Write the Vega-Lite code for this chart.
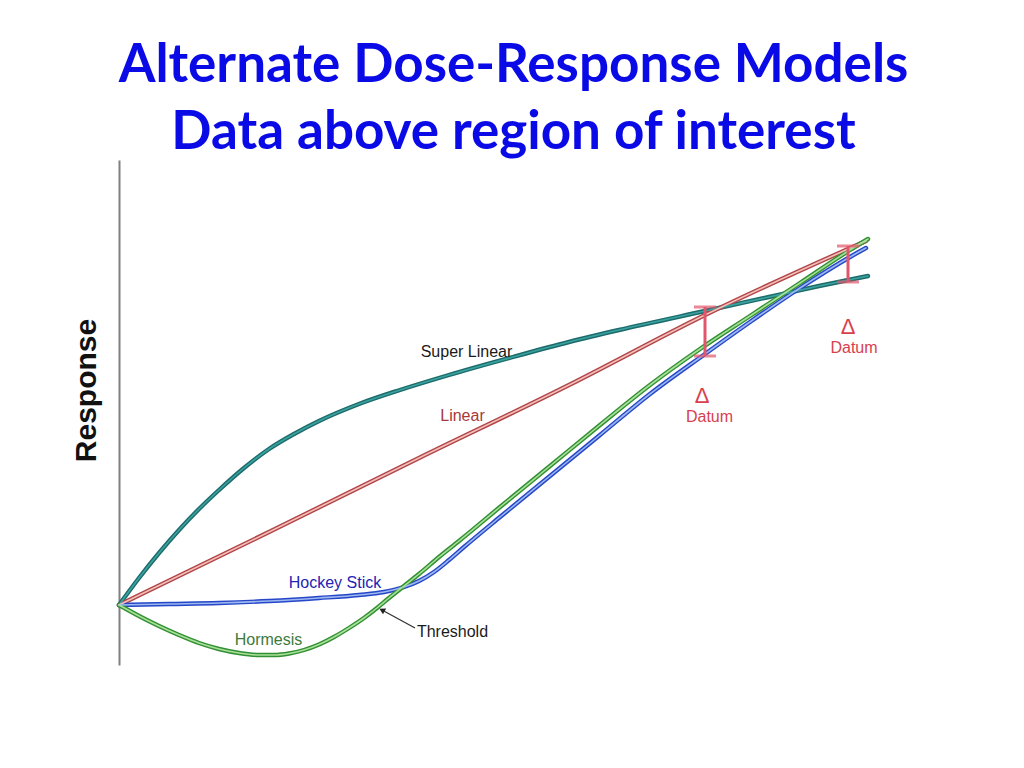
{
  "$schema": "https://vega.github.io/schema/vega-lite/v6.json",
  "width": 841,
  "height": 505,
  "autosize": {"type": "none"},
  "padding": {"left": 119, "top": 160, "right": 64, "bottom": 103},
  "background": "white",
  "config": {"view": {"stroke": null}},
  "title": {
    "text": ["Alternate Dose-Response Models", "Data above region of interest"],
    "font": "Lato",
    "fontSize": 53,
    "fontWeight": "bold",
    "color": "#0a0ae6",
    "anchor": "middle",
    "frame": "group",
    "dx": -26,
    "offset": 0,
    "lineHeight": 67
  },
  "datasets": {
    "curves": [
      {"series": "Super Linear", "x": 0, "y": 0},
      {"series": "Super Linear", "x": 20, "y": 27},
      {"series": "Super Linear", "x": 40, "y": 52},
      {"series": "Super Linear", "x": 60, "y": 75},
      {"series": "Super Linear", "x": 80, "y": 96},
      {"series": "Super Linear", "x": 100, "y": 115},
      {"series": "Super Linear", "x": 125, "y": 137},
      {"series": "Super Linear", "x": 150, "y": 156},
      {"series": "Super Linear", "x": 175, "y": 171},
      {"series": "Super Linear", "x": 200, "y": 184},
      {"series": "Super Linear", "x": 240, "y": 201},
      {"series": "Super Linear", "x": 281, "y": 215},
      {"series": "Super Linear", "x": 330, "y": 230},
      {"series": "Super Linear", "x": 394, "y": 248},
      {"series": "Super Linear", "x": 450, "y": 263},
      {"series": "Super Linear", "x": 500, "y": 275},
      {"series": "Super Linear", "x": 586, "y": 294},
      {"series": "Super Linear", "x": 650, "y": 308},
      {"series": "Super Linear", "x": 700, "y": 319},
      {"series": "Super Linear", "x": 749, "y": 329},
      {"series": "Linear", "x": 0, "y": 0},
      {"series": "Linear", "x": 150, "y": 73},
      {"series": "Linear", "x": 300, "y": 147},
      {"series": "Linear", "x": 450, "y": 220},
      {"series": "Linear", "x": 586, "y": 290},
      {"series": "Linear", "x": 747, "y": 364},
      {"series": "Hockey Stick", "x": 0, "y": 0},
      {"series": "Hockey Stick", "x": 50, "y": 1},
      {"series": "Hockey Stick", "x": 100, "y": 2},
      {"series": "Hockey Stick", "x": 150, "y": 4},
      {"series": "Hockey Stick", "x": 200, "y": 7},
      {"series": "Hockey Stick", "x": 240, "y": 10},
      {"series": "Hockey Stick", "x": 265, "y": 13},
      {"series": "Hockey Stick", "x": 285, "y": 18},
      {"series": "Hockey Stick", "x": 300, "y": 24},
      {"series": "Hockey Stick", "x": 315, "y": 33},
      {"series": "Hockey Stick", "x": 330, "y": 45},
      {"series": "Hockey Stick", "x": 345, "y": 58},
      {"series": "Hockey Stick", "x": 381, "y": 88},
      {"series": "Hockey Stick", "x": 431, "y": 129},
      {"series": "Hockey Stick", "x": 481, "y": 170},
      {"series": "Hockey Stick", "x": 531, "y": 211},
      {"series": "Hockey Stick", "x": 586, "y": 251},
      {"series": "Hockey Stick", "x": 631, "y": 283},
      {"series": "Hockey Stick", "x": 681, "y": 317},
      {"series": "Hockey Stick", "x": 731, "y": 348},
      {"series": "Hockey Stick", "x": 747, "y": 357},
      {"series": "Hormesis", "x": 0, "y": 0},
      {"series": "Hormesis", "x": 20, "y": -11},
      {"series": "Hormesis", "x": 40, "y": -21},
      {"series": "Hormesis", "x": 60, "y": -30},
      {"series": "Hormesis", "x": 80, "y": -38},
      {"series": "Hormesis", "x": 100, "y": -44},
      {"series": "Hormesis", "x": 120, "y": -48},
      {"series": "Hormesis", "x": 140, "y": -50},
      {"series": "Hormesis", "x": 155, "y": -50},
      {"series": "Hormesis", "x": 170, "y": -48.5},
      {"series": "Hormesis", "x": 185, "y": -45},
      {"series": "Hormesis", "x": 200, "y": -39.5},
      {"series": "Hormesis", "x": 215, "y": -32},
      {"series": "Hormesis", "x": 230, "y": -23},
      {"series": "Hormesis", "x": 245, "y": -13},
      {"series": "Hormesis", "x": 258, "y": -3},
      {"series": "Hormesis", "x": 270, "y": 7},
      {"series": "Hormesis", "x": 285, "y": 19},
      {"series": "Hormesis", "x": 300, "y": 31},
      {"series": "Hormesis", "x": 320, "y": 48},
      {"series": "Hormesis", "x": 340, "y": 64},
      {"series": "Hormesis", "x": 381, "y": 98},
      {"series": "Hormesis", "x": 431, "y": 139},
      {"series": "Hormesis", "x": 481, "y": 180},
      {"series": "Hormesis", "x": 531, "y": 220},
      {"series": "Hormesis", "x": 581, "y": 256},
      {"series": "Hormesis", "x": 631, "y": 289},
      {"series": "Hormesis", "x": 681, "y": 322},
      {"series": "Hormesis", "x": 731, "y": 355},
      {"series": "Hormesis", "x": 749, "y": 366}
    ],
    "datums": [
      {"x": 586, "lo": 249, "hi": 298},
      {"x": 729, "lo": 323, "hi": 359}
    ],
    "labels": [
      {"t": "Super Linear", "x": 347.5, "y": 253},
      {"t": "Linear", "x": 343.5, "y": 189},
      {"t": "Hockey Stick", "x": 216, "y": 22},
      {"t": "Hormesis", "x": 149.5, "y": -35},
      {"t": "Threshold", "x": 333.5, "y": -27},
      {"t": "Datum", "x": 590.5, "y": 188},
      {"t": "Datum", "x": 735, "y": 257}
    ],
    "deltas": [
      {"t": "Δ", "x": 583, "y": 209},
      {"t": "Δ", "x": 729, "y": 278}
    ],
    "arrow": [
      {"x": 296, "y": -23, "x2": 263, "y2": -5}
    ]
  },
  "layer": [
    {
      "data": {"name": "curves"},
      "mark": {"type": "line", "interpolate": "monotone", "strokeWidth": 4.4, "strokeCap": "round"},
      "encoding": {
        "x": {"field": "x", "type": "quantitative", "scale": {"domain": [0, 841], "nice": false, "zero": false}, "axis": null},
        "y": {
          "field": "y", "type": "quantitative", "title": "Response",
          "scale": {"domain": [-60, 445], "nice": false, "zero": false},
          "axis": {
            "title": "Response", "labels": false, "ticks": false, "grid": false,
            "domain": true, "domainColor": "#808080", "domainWidth": 2,
            "titleFont": "Liberation Sans", "titleFontSize": 30, "titleFontWeight": "bold", "titleColor": "#111111",
            "titleX": -18, "titleY": 230, "titleAngle": -90, "titleAlign": "center", "titleBaseline": "bottom"
          }
        },
        "stroke": {
          "field": "series", "type": "nominal",
          "scale": {"domain": ["Linear", "Super Linear", "Hockey Stick", "Hormesis"], "range": ["#b0454a", "#1d6b6b", "#2747c8", "#338f33"]},
          "legend": null
        }
      }
    },
    {
      "data": {"name": "curves"},
      "mark": {"type": "line", "interpolate": "monotone", "strokeWidth": 1.6, "strokeCap": "round"},
      "encoding": {
        "x": {"field": "x", "type": "quantitative"},
        "y": {"field": "y", "type": "quantitative", "title": "Response"},
        "color": {
          "field": "series", "type": "nominal",
          "scale": {"domain": ["Linear", "Super Linear", "Hockey Stick", "Hormesis"], "range": ["#f4c0b8", "#3aa3a0", "#9bb8f0", "#a8e29a"]},
          "legend": null
        }
      }
    },
    {
      "mark": {"type": "rule", "color": "#8a8a8a", "strokeWidth": 2},
      "encoding": {"y": {"datum": 0, "type": "quantitative", "title": "Response"}}
    },
    {
      "data": {"name": "datums"},
      "mark": {"type": "errorbar", "ticks": true, "size": 22, "thickness": 3, "color": "#e2566b"},
      "encoding": {
        "x": {"field": "x", "type": "quantitative"},
        "y": {"field": "lo", "type": "quantitative", "title": "Response"},
        "y2": {"field": "hi"}
      }
    },
    {
      "data": {"name": "arrow"},
      "mark": {"type": "rule", "color": "#333333", "strokeWidth": 1.3},
      "encoding": {
        "x": {"field": "x", "type": "quantitative"},
        "y": {"field": "y", "type": "quantitative", "title": "Response"},
        "x2": {"field": "x2"},
        "y2": {"field": "y2"}
      }
    },
    {
      "data": {"name": "arrow"},
      "mark": {"type": "point", "shape": "triangle-up", "filled": true, "color": "#222222", "size": 45, "angle": 298, "opacity": 1},
      "encoding": {
        "x": {"field": "x2", "type": "quantitative"},
        "y": {"field": "y2", "type": "quantitative", "title": "Response"}
      }
    },
    {
      "data": {"name": "labels"},
      "mark": {"type": "text", "font": "Liberation Sans", "fontSize": 16, "align": "center", "baseline": "middle"},
      "encoding": {
        "x": {"field": "x", "type": "quantitative"},
        "y": {"field": "y", "type": "quantitative", "title": "Response"},
        "text": {"field": "t"},
        "fill": {
          "field": "t", "type": "nominal",
          "scale": {"domain": ["Super Linear", "Linear", "Hockey Stick", "Hormesis", "Threshold", "Datum"], "range": ["#1a1a1a", "#a8383a", "#2323b5", "#3d7a3d", "#1a1a1a", "#d8404e"]},
          "legend": null
        }
      }
    },
    {
      "data": {"name": "deltas"},
      "mark": {"type": "text", "font": "Liberation Sans", "fontSize": 22, "align": "center", "baseline": "middle", "color": "#d8404e"},
      "encoding": {
        "x": {"field": "x", "type": "quantitative"},
        "y": {"field": "y", "type": "quantitative", "title": "Response"},
        "text": {"field": "t"}
      }
    }
  ]
}
